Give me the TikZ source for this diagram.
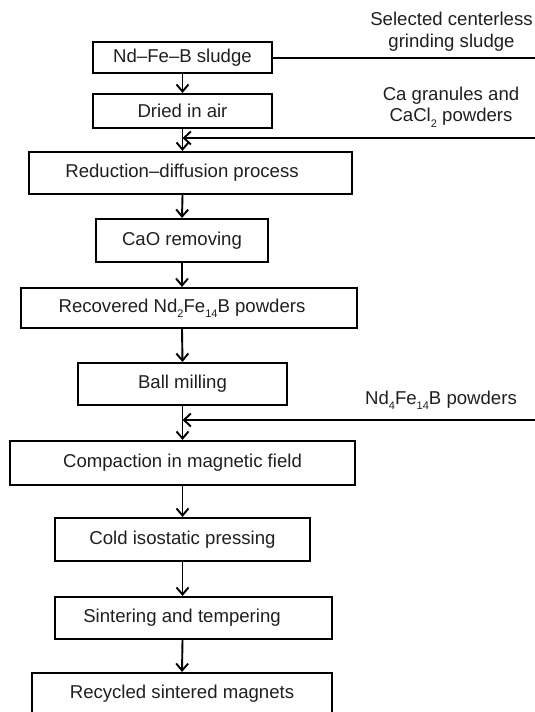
\documentclass[tikz,border=0pt]{standalone}
\usepackage{fontspec}
\setmainfont{Liberation Sans}
\usetikzlibrary{arrows.meta}
\newcommand{\subidx}[1]{\raisebox{-0.55ex}{\fontsize{11}{11}\selectfont #1}}
\tikzset{
  stepbox/.style={draw, line width=2.1pt, inner sep=0pt, text=black!88, font=\fontsize{18.6}{22}\selectfont},
  flow/.style={line width=1.9pt, -{Straight Barb[length=7pt,width=12pt,line width=1.9pt]}},
  feed/.style={line width=1.9pt, -{Straight Barb[length=7pt,width=13pt,line width=1.9pt]}},
  sidetext/.style={align=center, inner sep=0pt, text=black!88, font=\fontsize{18.6}{21.8}\selectfont},
}
\begin{document}
\begin{tikzpicture}[x=1pt,y=-1pt]
    \clip (0,0) rectangle (535,712);
    % process steps
    \node[stepbox, minimum width=179pt, minimum height=31pt] (sludge) at (182.5,57.5) {Nd–Fe–B sludge};
    \node[stepbox, minimum width=179pt, minimum height=34pt] (dried) at (182.5,111) {Dried in air};
    \node[stepbox, minimum width=323pt, minimum height=42pt] (reduction) at (190.5,173) {Reduction–diffusion process\kern17pt};
    \node[stepbox, minimum width=172pt, minimum height=43pt] (cao) at (182,240.5) {CaO removing};
    \node[stepbox, minimum width=336pt, minimum height=40pt] (recovered) at (189,308) {Recovered Nd\subidx{2}Fe\subidx{14}B powders\kern14pt};
    \node[stepbox, minimum width=209pt, minimum height=42pt] (ball) at (182.5,384) {Ball milling};
    \node[stepbox, minimum width=345pt, minimum height=44pt] (compaction) at (182.5,463) {Compaction in magnetic field};
    \node[stepbox, minimum width=255pt, minimum height=43pt] (cold) at (182.5,539.5) {Cold isostatic pressing};
    \node[stepbox, minimum width=277pt, minimum height=42pt] (sinter) at (193.5,618) {Sintering and tempering\kern23pt};
    \node[stepbox, minimum width=300pt, minimum height=42pt] (recycled) at (182,694) {Recycled sintered magnets};
    % main flow
    \draw[flow] (sludge.south) -- (dried.north);
    \draw[flow] (dried.south) -- (dried.south |- reduction.north);
    \draw[flow] (dried.south |- reduction.south) -- (cao.north);
    \draw[flow] (cao.south) -- (cao.south |- recovered.north);
    \draw[flow] (cao.south |- recovered.south) -- (ball.north);
    \draw[flow] (ball.south) -- (compaction.north);
    \draw[flow] (compaction.south) -- (cold.north);
    \draw[flow] (cold.south) -- (cold.south |- sinter.north);
    \draw[flow] (cold.south |- sinter.south) -- (recycled.north);
    % side inputs
    \node[sidetext] (grindtext) at (451.5,32) {Selected centerless\\grinding sludge};
    \node[sidetext] (catext) at (451,107) {Ca granules and\\CaCl\subidx{2} powders};
    \node[sidetext] (ndtext) at (441,400) {Nd\subidx{4}Fe\subidx{14}B powders};
    \coordinate (grindend) at (535,57.5);
    \coordinate (caend) at (535,138);
    \coordinate (ndend) at (535,420);
    \draw[line width=2pt] (sludge.east) -- (grindend);
    \draw[feed] (caend) -- (caend -| dried.south);
    \draw[feed, line width=1.4pt] (ndend) -- (ndend -| ball.south);
\end{tikzpicture}
\end{document}
